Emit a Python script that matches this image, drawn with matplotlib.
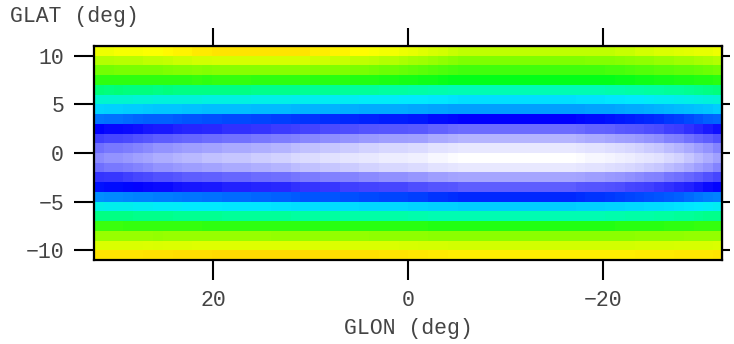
#!/usr/bin/env python3

import numpy as np
from matplotlib import pyplot as plt
from matplotlib.colors import LinearSegmentedColormap

# latitude profile (rows, lat 10.5 -> -10.5) at the deepest longitude
lat_profile = [0.86, 0.80, 0.76, 0.72, 0.63, 0.57, 0.50, 0.38, 0.26, 0.16, 0.06,
               0.00, 0.06, 0.18, 0.28, 0.41, 0.55, 0.63, 0.74, 0.81, 0.88, 0.97]

# how much each row follows the outer-row longitude variation
row_edge = [1.0, 0.67, 0.33, 0.17, 0.08, 0.04,
            0, 0, 0, 0, 0, 0, 0, 0, 0, 0, 0, 0, 0,
            0.05, 0.15, 0.2]

# core fill per longitude column (lon 31.5 -> -31.5)
lon_core = [0.22, 0.21, 0.21, 0.20, 0.19, 0.18, 0.17, 0.17, 0.16, 0.15, 0.15,
            0.14, 0.14, 0.13, 0.13, 0.13, 0.12, 0.12, 0.11, 0.11, 0.10, 0.09,
            0.09, 0.08, 0.08, 0.07, 0.07, 0.06, 0.06, 0.05, 0.05, 0.05, 0.04,
            0.04, 0.02, 0.02, 0.01,
            0.0, 0.0, 0.0, 0.0, 0.0, 0.0, 0.0, 0.0, 0.0, 0.0, 0.0, 0.0,
            0.01, 0.02, 0.02, 0.03, 0.04, 0.05, 0.06, 0.07, 0.08, 0.10, 0.11,
            0.13, 0.15, 0.17, 0.19]

# extra level in the outer rows per longitude column
lon_edge = [0.06, 0.06, 0.07, 0.07, 0.07, 0.08,
            0.08, 0.09, 0.10, 0.10, 0.11, 0.11,
            0.12, 0.12, 0.12, 0.12, 0.12, 0.12, 0.12, 0.12, 0.12, 0.12,
            0.11, 0.11, 0.10, 0.10, 0.09,
            0.09, 0.08, 0.07, 0.07, 0.06,
            0.05, 0.04, 0.03, 0.02, 0.01,
            0.0, 0.0, 0.0, 0.0, 0.0, 0.0, 0.0, 0.0,
            0.0, 0.0, 0.0, 0.0, 0.0, 0.0, 0.0, 0.0,
            0.01, 0.01, 0.02, 0.02, 0.03, 0.03, 0.04, 0.04, 0.05, 0.05, 0.06]

glon_ticks = [20, 0, -20]
glat_ticks = [10, 5, 0, -5, -10]

cmap = LinearSegmentedColormap.from_list("lat", [
    (0.00, (1.0, 1.0, 1.0)),
    (0.10, (0.85, 0.85, 1.0)),
    (0.20, (0.6, 0.6, 1.0)),
    (0.30, (0.3, 0.3, 1.0)),
    (0.38, (0.0, 0.0, 1.0)),
    (0.46, (0.0, 0.45, 1.0)),
    (0.52, (0.0, 0.7, 1.0)),
    (0.58, (0.0, 0.92, 1.0)),
    (0.64, (0.0, 1.0, 0.65)),
    (0.72, (0.0, 1.0, 0.1)),
    (0.80, (0.5, 1.0, 0.0)),
    (0.88, (0.82, 1.0, 0.0)),
    (0.95, (1.0, 1.0, 0.0)),
    (1.00, (1.0, 0.85, 0.0)),
])

p = np.array(lat_profile)[:, None]
image = (p + np.array(lon_core)[None, :] * (1 - p) ** 2
         + np.array(row_edge)[:, None] * np.array(lon_edge)[None, :])
image = np.clip(image, 0, 1)

font = "Liberation Mono"
tcol = "#444444"
fs = 15.5

fig = plt.figure(figsize=(7.34, 3.44), dpi=100)
ax = fig.add_axes([0.128, 0.244, 0.8557, 0.622])
ax.imshow(image, cmap=cmap, vmin=0, vmax=1, aspect="auto", interpolation="nearest",
          extent=[32.2, -32.2, -11, 11], origin="upper")
ax.set_xlim(32.2, -32.2)
ax.set_ylim(-11, 11)

ax.set_xticks(glon_ticks)
ax.set_yticks(glat_ticks)
ax.tick_params(direction="out", length=14.5, width=1.5, pad=7, labelsize=fs,
               labelcolor=tcol)
for lab in ax.get_xticklabels() + ax.get_yticklabels():
    lab.set_fontfamily(font)
for s in ax.spines.values():
    s.set_linewidth(1.6)

top = ax.secondary_xaxis("top")
top.set_xticks(glon_ticks)
top.tick_params(direction="out", length=13, width=1.5, labeltop=False)
right = ax.secondary_yaxis("right")
right.set_yticks(glat_ticks)
right.tick_params(direction="out", length=6, width=1.5, labelright=False)

ax.set_xlabel("GLON (deg)", fontsize=fs, family=font, color=tcol, labelpad=5)
fig.text(0.013, 0.952, "GLAT (deg)", fontsize=fs, family=font, color=tcol,
         va="center", ha="left")

fig.savefig("out.png", dpi=100)
